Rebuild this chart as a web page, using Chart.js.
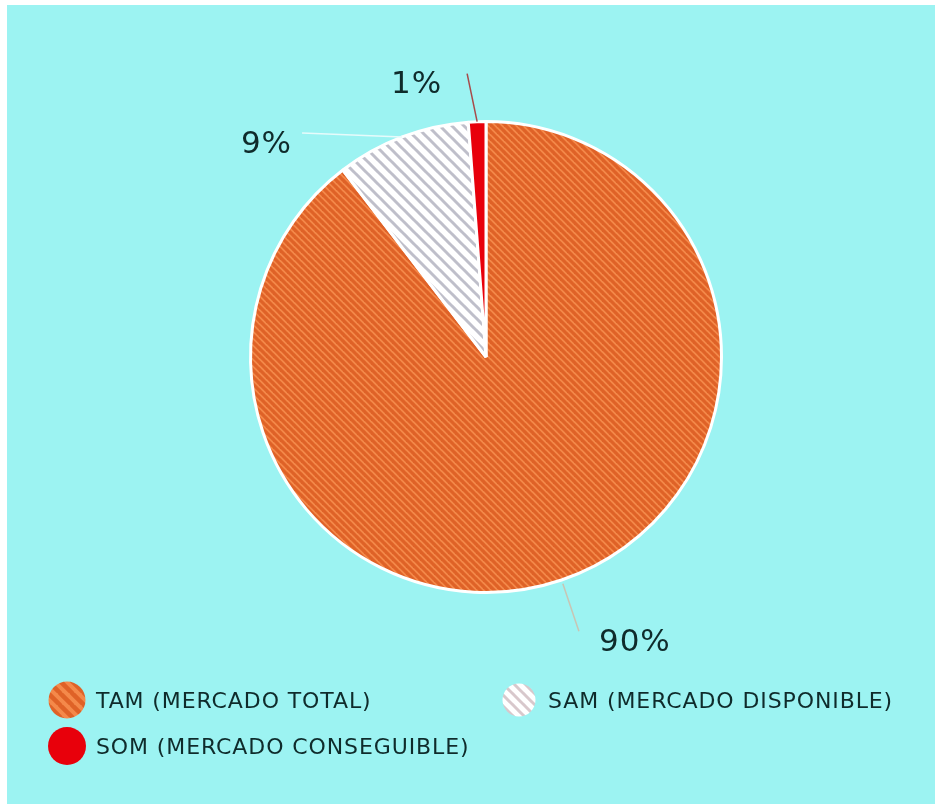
<!DOCTYPE html>
<html>
<head>
<meta charset="utf-8">
<script src="https://cdn.jsdelivr.net/npm/chart.js@4.4.1/dist/chart.umd.min.js"></script>
<style>
  html, body { margin: 0; padding: 0; background: #ffffff; width: 935px; height: 804px; overflow: hidden; }
  #bg { position: absolute; left: 7px; top: 5px; width: 928px; height: 799px; background: #9cf3f2; }
  #chart { position: absolute; left: 7px; top: 5px; }
  #legend { position: absolute; left: 48px; top: 681px; display: grid; grid-template-columns: 452px 420px; grid-auto-rows: 46px;
            font-family: "DejaVu Sans", sans-serif; font-size: 22px; letter-spacing: 0.9px; color: #0f2b2b; }
  .item { display: flex; align-items: center; height: 38px; }
  .item canvas { margin-right: 10px; flex: none; }
</style>
</head>
<body>
<div id="bg"></div>
<canvas id="chart" width="928" height="799"></canvas>
<div id="legend"></div>
<script>
// ---- data ----
const categories = ['TAM (MERCADO TOTAL)', 'SAM (MERCADO DISPONIBLE)', 'SOM (MERCADO CONSEGUIBLE)'];
const values = [89.6, 9.2, 1.2];

// ---- styles ----
const textColor = '#0f2b2b';
function stripes(bg, fg, size, lw) {
  const c = document.createElement('canvas');
  c.width = size; c.height = size;
  const g = c.getContext('2d');
  g.fillStyle = bg; g.fillRect(0, 0, size, size);
  g.strokeStyle = fg; g.lineWidth = lw;
  for (const x0 of [-size, 0, size]) {
    g.beginPath(); g.moveTo(x0 - 1, -1); g.lineTo(x0 + size + 1, size + 1); g.stroke();
  }
  return c;
}
const ctx = document.getElementById('chart').getContext('2d');
const fillDefs = [
  {bg: '#f4894a', fg: '#df6227', size: 7, lw: 3.2},
  {bg: '#ffffff', fg: '#bfbfca', size: 12, lw: 3},
  {bg: '#e8000b', fg: '#e8000b', size: 6, lw: 1}
];
const fills = fillDefs.map(d => ctx.createPattern(stripes(d.bg, d.fg, d.size, d.lw), 'repeat'));
const leaderColors = ['#c9c4b4', '#e6fbfb', '#a84a4a'];
// leader styles: radial = along mid angle; otherwise a relative vector from the arc point
const leaders = [
  {radial: true, r0: 4, len: 50, tx: 20, align: 'left'},
  {radial: false, vx: -100, vy: -4, tx: -10, align: 'right'},
  {radial: false, vx: -10, vy: -48, tx: -25, align: 'right'}
];

const total = values.reduce((a, b) => a + b, 0);

const outLabels = {
  id: 'outLabels',
  afterDatasetsDraw(chart) {
    const c = chart.ctx;
    const meta = chart.getDatasetMeta(0);
    meta.data.forEach((arc, i) => {
      const p = arc.getProps(['x', 'y', 'startAngle', 'endAngle', 'outerRadius'], true);
      const mid = (p.startAngle + p.endAngle) / 2;
      const L = leaders[i];
      let sx, sy, ex, ey;
      if (L.radial) {
        sx = p.x + Math.cos(mid) * (p.outerRadius + L.r0);
        sy = p.y + Math.sin(mid) * (p.outerRadius + L.r0);
        ex = p.x + Math.cos(mid) * (p.outerRadius + L.r0 + L.len);
        ey = p.y + Math.sin(mid) * (p.outerRadius + L.r0 + L.len);
      } else {
        sx = p.x + Math.cos(mid) * p.outerRadius;
        sy = p.y + Math.sin(mid) * p.outerRadius;
        ex = sx + L.vx; ey = sy + L.vy;
      }
      c.save();
      c.strokeStyle = leaderColors[i];
      c.lineWidth = 1.5;
      c.beginPath(); c.moveTo(sx, sy); c.lineTo(ex, ey); c.stroke();
      c.fillStyle = textColor;
      c.font = '31px "DejaVu Sans", sans-serif';
      c.letterSpacing = '1px';
      c.textAlign = L.align;
      c.textBaseline = 'top';
      const pct = Math.round(values[i] / total * 100) + '%';
      c.fillText(pct, ex + L.tx, ey - 4);
      c.restore();
    });
  }
};

new Chart(ctx, {
  type: 'pie',
  data: {
    labels: categories,
    datasets: [{
      data: values,
      backgroundColor: fills,
      borderColor: '#ffffff',
      borderWidth: 3,
      hoverOffset: 0
    }]
  },
  options: {
    responsive: false,
    animation: false,
    layout: { padding: { left: 242, right: 212, top: 115, bottom: 210 } },
    plugins: { legend: { display: false }, tooltip: { enabled: false } },
    events: []
  },
  plugins: [outLabels]
});

// ---- legend (HTML) ----
const legend = document.getElementById('legend');
const legendOrder = [0, 1, 2];
const swatchDefs = [
  {bg: '#f4894a', fg: '#df6227', size: 12, lw: 4.5, d: 37},
  {bg: '#ffffff', fg: '#d8c8cc', size: 11, lw: 3, d: 33},
  {bg: '#e8000b', fg: '#e8000b', size: 6, lw: 1, d: 38}
];
legendOrder.forEach(i => {
  const item = document.createElement('div');
  item.className = 'item';
  const sd = swatchDefs[i];
  const sw = document.createElement('canvas');
  sw.width = 38; sw.height = 38;
  const g = sw.getContext('2d');
  g.fillStyle = g.createPattern(stripes(sd.bg, sd.fg, sd.size, sd.lw), 'repeat');
  g.beginPath(); g.arc(19, 19, sd.d / 2, 0, Math.PI * 2); g.fill();
  const t = document.createElement('span');
  t.textContent = categories[i];
  item.appendChild(sw); item.appendChild(t);
  legend.appendChild(item);
});
</script>
</body>
</html>
